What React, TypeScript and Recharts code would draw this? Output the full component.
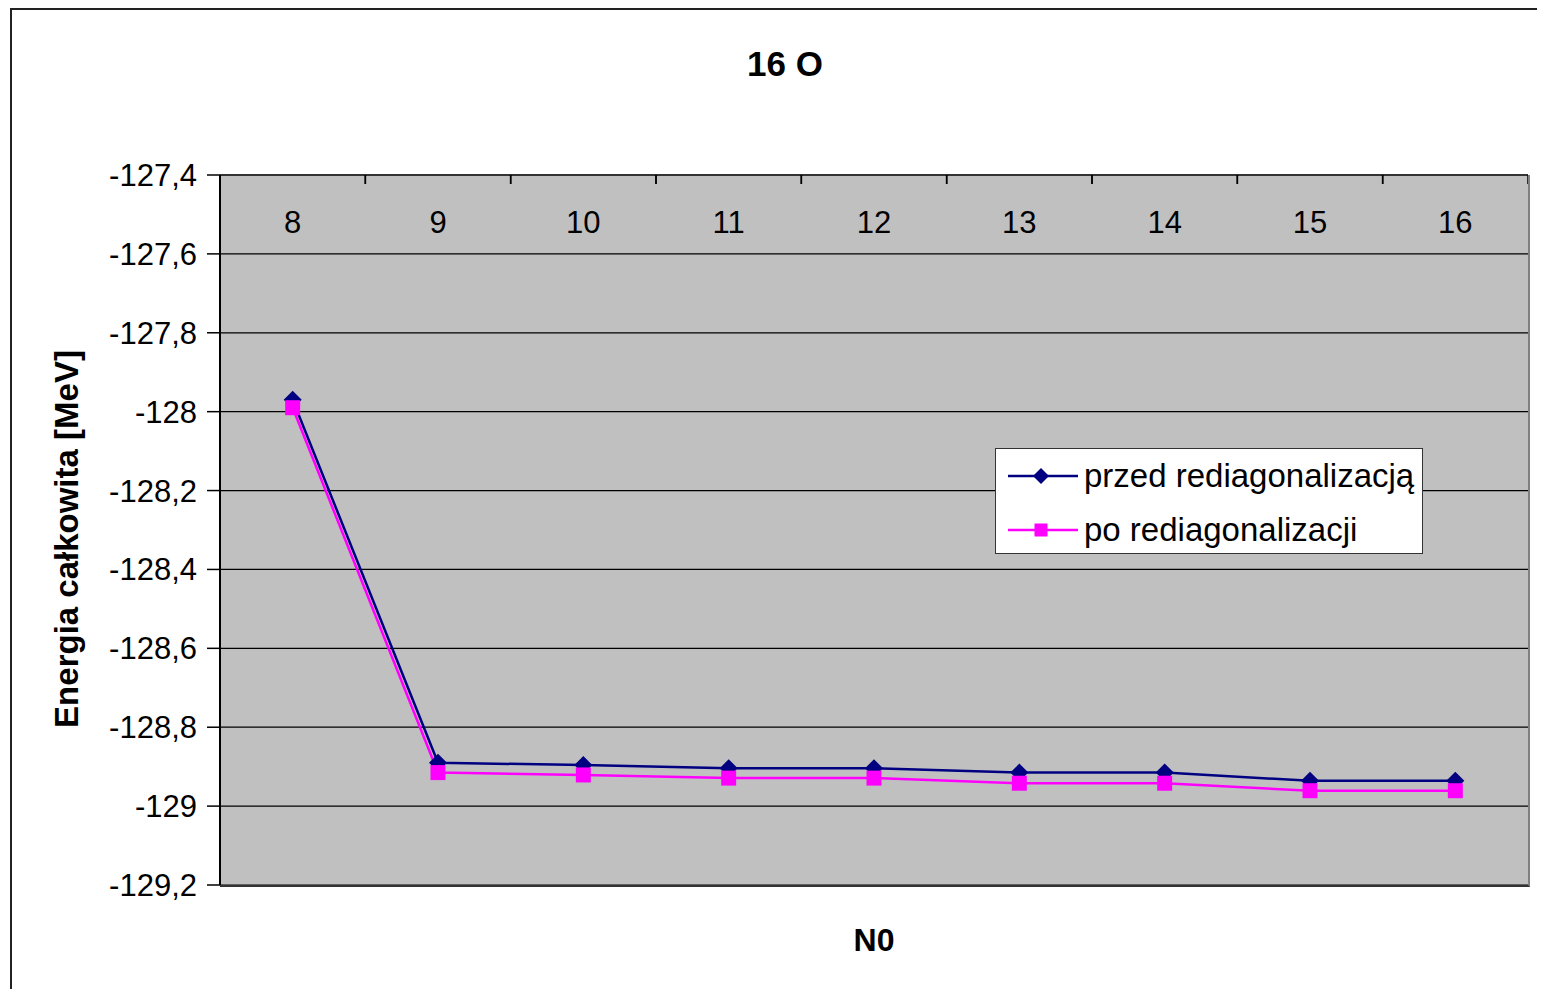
import React from "react";
import { LineChart, Line, XAxis, YAxis, CartesianGrid } from "recharts";

// N0 values on the category axis
const nValues = [8, 9, 10, 11, 12, 13, 14, 15, 16];
// total energy before and after rediagonalisation [MeV]
const beforeValues = [-127.97, -128.89, -128.896, -128.904, -128.904, -128.915, -128.915, -128.936, -128.936];
const afterValues = [-127.99, -128.915, -128.921, -128.929, -128.929, -128.942, -128.942, -128.961, -128.961];
const yTicks = [-129.2, -129, -128.8, -128.6, -128.4, -128.2, -128, -127.8, -127.6, -127.4];

const seriesNames = ["przed rediagonalizacją", "po rediagonalizacji"];
const NAVY = "#000080";
const PINK = "#FF00FF";
const FONT = "'Liberation Sans', Arial, sans-serif";

const data = nValues.map((n, i) => ({
  n,
  przed: beforeValues[i],
  po: afterValues[i],
}));

const W = 1537;
const H = 981;
const PLOT_LEFT = 212;
const PLOT_TOP = 167;
const PLOT_RIGHT = 1520;
const PLOT_BOTTOM = 877;
const PLOT_W = PLOT_RIGHT - PLOT_LEFT;
const BAND = PLOT_W / nValues.length;

const fmt = (v: number) => String(Number(v.toFixed(1))).replace(".", ",");

const DiamondMark = ({ cx, cy, half }: { cx: number; cy: number; half: number }) => (
  <path
    d={`M${cx},${cy - half} L${cx + half},${cy} L${cx},${cy + half} L${cx - half},${cy} Z`}
    fill={NAVY}
  />
);

const SquareMark = ({ cx, cy, side }: { cx: number; cy: number; side: number }) => (
  <rect x={cx - side / 2} y={cy - side / 2} width={side} height={side} fill={PINK} />
);

const diamondDot = (props: any) => {
  const { cx, cy, index } = props;
  if (cx == null || cy == null) return <g key={`d-${index}`} />;
  return <DiamondMark key={`d-${index}`} cx={cx} cy={cy} half={9} />;
};

const squareDot = (props: any) => {
  const { cx, cy, index } = props;
  if (cx == null || cy == null) return <g key={`s-${index}`} />;
  return <SquareMark key={`s-${index}`} cx={cx} cy={cy} side={15} />;
};

// category labels sit inside the plot, with small tick marks between categories
const TopTick = ({ x, y, payload }: any) => (
  <g>
    <line x1={x - BAND / 2} y1={y} x2={x - BAND / 2} y2={y + 9} stroke="#000" strokeWidth={1.5} />
    <line x1={x + BAND / 2} y1={y} x2={x + BAND / 2} y2={y + 9} stroke="#000" strokeWidth={1.5} />
    <text x={x} y={y + 58} textAnchor="middle" fontSize={31} fontFamily={FONT} fill="#000">
      {payload.value}
    </text>
  </g>
);

const LegendBox = () => (
  <div
    style={{
      position: "absolute",
      left: 987,
      top: 440,
      width: 426,
      height: 104,
      background: "#fff",
      border: "1.5px solid #333",
      fontFamily: FONT,
      fontSize: 33,
      color: "#000",
    }}
  >
    {seriesNames.map((name, i) => (
      <div
        key={name}
        style={{ position: "absolute", left: 12, top: i === 0 ? 7 : 61, height: 40, display: "flex", alignItems: "center" }}
      >
        <svg width={72} height={40}>
          <line x1={0} y1={20} x2={70} y2={20} stroke={i === 0 ? NAVY : PINK} strokeWidth={2.5} />
          {i === 0 ? <DiamondMark cx={33} cy={20} half={8} /> : <SquareMark cx={33} cy={20} side={13} />}
        </svg>
        <span style={{ marginLeft: 4, lineHeight: "40px" }}>{name}</span>
      </div>
    ))}
  </div>
);

export default function App() {
  return (
    <div style={{ position: "relative", width: W, height: H, overflow: "hidden", background: "#fff" }}>
      <div
        style={{
          position: "absolute",
          left: 2,
          top: 0,
          width: W + 20,
          height: H + 20,
          border: "2px solid #222",
          boxSizing: "border-box",
        }}
      />
      <LineChart
        width={W}
        height={H}
        data={data}
        margin={{ top: PLOT_TOP - 30, right: W - PLOT_RIGHT, bottom: H - PLOT_BOTTOM, left: PLOT_LEFT - 80 }}
        style={{ position: "absolute", left: 0, top: 0 }}
      >
        <CartesianGrid
          vertical={false}
          horizontal
          stroke="#000"
          strokeWidth={1.2}
          fill="#C0C0C0"
          fillOpacity={1}
        />
        <XAxis
          dataKey="n"
          orientation="top"
          height={30}
          padding={{ left: BAND / 2, right: BAND / 2 }}
          axisLine={{ stroke: "#333", strokeWidth: 2 }}
          tickLine={false}
          tickSize={0}
          tickMargin={0}
          interval={0}
          tick={<TopTick />}
        />
        <YAxis
          type="number"
          width={80}
          domain={[-129.2, -127.4]}
          ticks={yTicks}
          interval={0}
          tickFormatter={fmt}
          axisLine={{ stroke: "#000", strokeWidth: 2 }}
          tickLine={{ stroke: "#000", strokeWidth: 1.5 }}
          tickSize={13}
          tickMargin={10}
          tick={{ fontSize: 31, fontFamily: FONT, fill: "#000" }}
          allowDataOverflow
        />
        <Line
          type="linear"
          dataKey="przed"
          name={seriesNames[0]}
          stroke={NAVY}
          strokeWidth={2.5}
          dot={diamondDot}
          activeDot={false}
          isAnimationActive={false}
        />
        <Line
          type="linear"
          dataKey="po"
          name={seriesNames[1]}
          stroke={PINK}
          strokeWidth={2.5}
          dot={squareDot}
          activeDot={false}
          isAnimationActive={false}
        />
      </LineChart>
      {/* plot frame: right edge and bottom line */}
      <div
        style={{
          position: "absolute",
          left: PLOT_LEFT,
          top: PLOT_TOP,
          width: PLOT_W,
          height: PLOT_BOTTOM - PLOT_TOP,
          borderRight: "2px solid #808080",
          borderBottom: "2px solid #333",
          boxSizing: "content-box",
          pointerEvents: "none",
        }}
      />
      <LegendBox />
      <div
        style={{
          position: "absolute",
          left: 0,
          width: 1554,
          top: 36,
          textAlign: "center",
          fontFamily: FONT,
          fontWeight: "bold",
          fontSize: 35,
        }}
      >
        16 O
      </div>
      <div
        style={{
          position: "absolute",
          left: PLOT_LEFT,
          width: PLOT_W,
          top: 914,
          textAlign: "center",
          fontFamily: FONT,
          fontWeight: "bold",
          fontSize: 32,
        }}
      >
        N0
      </div>
      <div
        style={{
          position: "absolute",
          left: 59,
          top: 531,
          transform: "translate(-50%, -50%) rotate(-90deg)",
          whiteSpace: "nowrap",
          fontFamily: FONT,
          fontWeight: "bold",
          fontSize: 33,
        }}
      >
        Energia całkowita [MeV]
      </div>
    </div>
  );
}
